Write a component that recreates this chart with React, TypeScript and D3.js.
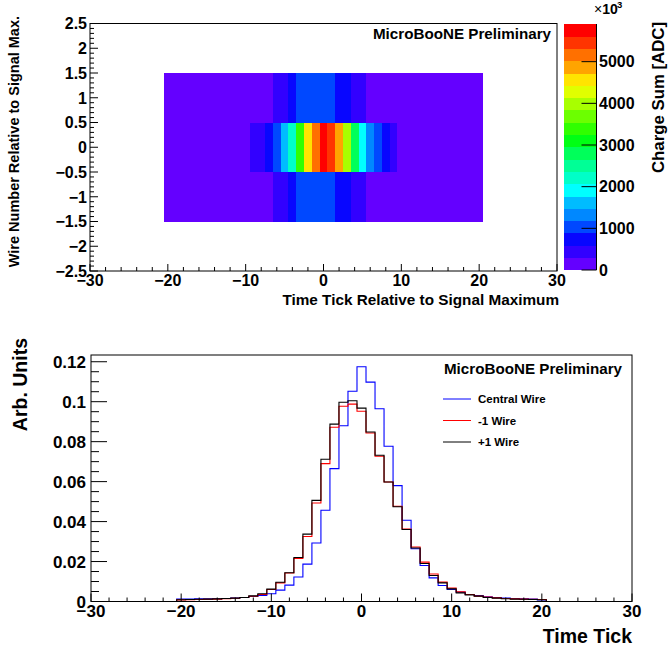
import React from 'react';
import * as d3 from 'd3';

// ---------- DATA ----------
// time-tick bin centres (relative to signal maximum)
const timeBins = [-20, -19, -18, -17, -16, -15, -14, -13, -12, -11, -10, -9, -8, -7, -6, -5, -4, -3, -2, -1, 0,
  1, 2, 3, 4, 5, 6, 7, 8, 9, 10, 11, 12, 13, 14, 15, 16, 17, 18, 19, 20];

// wire numbers relative to signal max (rows of the 2D map)
const wireRows = [-1, 0, 1];

// charge sum per (wire, time) bin, in units of 10^3 ADC
const chargeMinus1 = [9, 10, 11, 12, 13, 15, 17, 21, 28, 37, 64, 99, 152, 229, 346, 525, 735, 929, 1040, 1052, 1014,
  898, 774, 637, 508, 387, 291, 210, 147, 103, 71, 51, 37, 29, 23, 19, 16, 14, 13, 12, 11];
const chargeCentral = [60, 60, 65, 65, 70, 75, 85, 100, 125, 150, 196, 310, 412, 618, 940, 1500, 2296, 3342, 4480, 5286, 5904,
  5517, 4849, 3904, 2915, 2045, 1327, 905, 600, 402, 280, 236, 176, 151, 121, 100, 85, 75, 65, 60, 40];
const chargePlus1 = [10, 11, 12, 13, 14, 16, 18, 21, 30, 42, 66, 102, 153, 234, 359, 539, 758, 946, 1062, 1070, 1031,
  903, 780, 637, 505, 383, 285, 202, 138, 99, 67, 46, 35, 29, 21, 18, 15, 13, 12, 11, 10];

// normalised waveform profiles (Arb. Units)
const profileCentral = [0.0012, 0.0012, 0.0013, 0.0013, 0.0014, 0.0015, 0.0017, 0.002, 0.0025, 0.003, 0.0039, 0.0057, 0.0082,
  0.0123, 0.0187, 0.0293, 0.0457, 0.0665, 0.088, 0.1052, 0.1175, 0.1098, 0.0965, 0.0777, 0.058, 0.0407, 0.0264, 0.018,
  0.0118, 0.008, 0.006, 0.0047, 0.0035, 0.003, 0.0024, 0.002, 0.0017, 0.0015, 0.0013, 0.0012, 0.0008];
const profileMinus1 = [0.0008, 0.0009, 0.001, 0.0011, 0.0012, 0.0014, 0.0016, 0.002, 0.0026, 0.0035, 0.006, 0.0093, 0.0143,
  0.0215, 0.0325, 0.0493, 0.069, 0.0872, 0.0977, 0.0988, 0.0952, 0.0843, 0.0727, 0.0598, 0.0477, 0.0363, 0.0273, 0.0197,
  0.0138, 0.0097, 0.0067, 0.0048, 0.0035, 0.0027, 0.0022, 0.0018, 0.0015, 0.0013, 0.0012, 0.0011, 0.001];
const profilePlus1 = [0.0009, 0.001, 0.0011, 0.0012, 0.0013, 0.0015, 0.0017, 0.002, 0.0028, 0.0039, 0.0062, 0.0096, 0.0144,
  0.022, 0.0337, 0.0506, 0.0712, 0.0888, 0.0997, 0.1005, 0.0968, 0.0848, 0.0732, 0.0598, 0.0474, 0.036, 0.0268, 0.019,
  0.013, 0.0093, 0.0063, 0.0043, 0.0033, 0.0027, 0.002, 0.0017, 0.0014, 0.0012, 0.0011, 0.001, 0.0009];

const legendLabels = ['Central Wire', '-1 Wire', '+1 Wire'];
const topXTicks = [-30, -20, -10, 0, 10, 20, 30];
const topYTicks = [-2.5, -2, -1.5, -1, -0.5, 0, 0.5, 1, 1.5, 2, 2.5];
const zTicks = [0, 1000, 2000, 3000, 4000, 5000];
const botXTicks = [-30, -20, -10, 0, 10, 20, 30];
const botYTicks = [0, 0.02, 0.04, 0.06, 0.08, 0.1, 0.12];

// ---------- STYLE ----------
const FONT = "'Liberation Sans', Arial, Helvetica, sans-serif";
const palette = ['#6400ff', '#3200ff', '#0806ff', '#0048ff', '#0088ff', '#00bcff', '#00ffff', '#00ffc8', '#00ff96', '#00ff5a',
  '#00ff14', '#30ff00', '#6cff00', '#a8ff00', '#e0ff00', '#ffe400', '#ffa400', '#ff7000', '#ff3400', '#ff0000'];

const fmt = (v: number) => String(+v.toFixed(4)).replace('-', '\u2212');

export default function App() {
  // ----- top panel -----
  const tL = 90, tR = 557, tT = 23.5, tB = 271;
  const xTop = d3.scaleLinear().domain([-30, 30]).range([tL, tR]);
  const yTop = d3.scaleLinear().domain([-2.5, 2.5]).range([tB, tT]);
  const rows = [chargeMinus1, chargeCentral, chargePlus1];
  const zMax = d3.max(rows.flat()) as number;
  const color = d3.scaleQuantize<string>().domain([0, zMax]).range(palette);
  const cbL = 564, cbR = 596.5;
  const zScale = d3.scaleLinear().domain([0, zMax]).range([270, 24]);
  const nBands = palette.length;

  const topXMinor = d3.range(-30, 30.001, 2);
  const topYMinor = d3.range(-2.5, 2.5001, 0.1);

  // ----- bottom panel -----
  const bL = 91, bR = 632, bT = 355, bB = 601.5;
  const allProfiles = [profileCentral, profileMinus1, profilePlus1];
  const yMaxB = (d3.max(allProfiles.flat()) as number) * 1.05;
  const xB = d3.scaleLinear().domain([-30, 30]).range([bL, bR]);
  const yB = d3.scaleLinear().domain([0, yMaxB]).range([bB, bT]);
  const botXMinor = d3.range(-30, 30.001, 2);
  const botYMinor = d3.range(0, yMaxB, 0.005);

  const histPath = (vals: number[]) => {
    // bins centred on integer time ticks, zero outside the filled range
    const pts: [number, number][] = [];
    pts.push([xB(-30), yB(0)]);
    for (let t = -29; t <= 29; t++) {
      const idx = timeBins.indexOf(t);
      const v = idx >= 0 ? vals[idx] : 0;
      pts.push([xB(t - 0.5), yB(v)]);
    }
    pts.push([xB(29.5), yB(0)]);
    pts.push([xB(30), yB(0)]);
    return d3.line().curve(d3.curveStepAfter)(pts) as string;
  };
  const lineColors = ['#0000ff', '#ff0000', '#000000'];

  return (
    <svg width={668} height={648} style={{ position: 'absolute', left: 0, top: 0, background: '#fff' }}
      fontFamily={FONT} fontWeight="bold">
      <rect x={0} y={0} width={668} height={648} fill="#fff" />
      {/* ===== TOP: 2D map ===== */}
      <g shapeRendering="crispEdges">
        {wireRows.map((w, ri) =>
          timeBins.map((t, ti) => (
            <rect key={`c${ri}-${ti}`} x={xTop(t - 0.5)} y={yTop(w + 0.5)}
              width={xTop(t + 0.5) - xTop(t - 0.5) + 0.3} height={yTop(w - 0.5) - yTop(w + 0.5) + 0.3}
              fill={color(rows[ri][ti])} />
          )))}
      </g>
      <rect x={tL} y={tT} width={tR - tL} height={tB - tT} fill="none" stroke="#000" strokeWidth={1} />
      {topXMinor.map((v) => {
        const major = Math.abs(v % 10) < 1e-6;
        return <line key={`tx${v}`} x1={xTop(v)} x2={xTop(v)} y1={tB} y2={tB - (major ? 7 : 4)} stroke="#000" />;
      })}
      {topYMinor.map((v) => {
        const major = Math.abs(Math.round(v * 10) % 5) === 0;
        return <line key={`ty${v.toFixed(1)}`} x1={tL} x2={tL + (major ? 8 : 4)} y1={yTop(v)} y2={yTop(v)} stroke="#000" />;
      })}
      {topXTicks.map((v) => (
        <text key={`txl${v}`} x={xTop(v)} y={286} fontSize={16} textAnchor="middle">{fmt(v)}</text>
      ))}
      {topYTicks.map((v) => (
        <text key={`tyl${v}`} x={87} y={yTop(v)} dy="0.36em" fontSize={16} textAnchor="end">{fmt(v)}</text>
      ))}
      <text x={559} y={305} fontSize={15.3} textAnchor="end">Time Tick Relative to Signal Maximum</text>
      <text transform="translate(19,16) rotate(-90)" fontSize={14.5} textAnchor="end">Wire Number Relative to Signal Max.</text>
      <text x={551} y={38.5} fontSize={15.2} textAnchor="end">MicroBooNE Preliminary</text>
      {/* colour bar */}
      <g shapeRendering="crispEdges">
        {palette.map((c, i) => (
          <rect key={`cb${i}`} x={cbL} width={cbR - cbL}
            y={zScale(((i + 1) * zMax) / nBands)} height={zScale((i * zMax) / nBands) - zScale(((i + 1) * zMax) / nBands) + 0.3}
            fill={c} />
        ))}
      </g>
      <line x1={cbR} x2={cbR} y1={zScale(0)} y2={zScale(zMax)} stroke="#000" />
      {zTicks.map((v) => (
        <g key={`z${v}`}>
          <line x1={cbR - 15} x2={cbR} y1={zScale(v)} y2={zScale(v)} stroke="#000" />
          <text x={599} y={zScale(v)} dy="0.36em" fontSize={16}>{v}</text>
        </g>
      ))}
      <text x={594} y={14} fontSize={14}><tspan fontWeight="normal">{'\u00d7'}</tspan>10</text>
      <text x={617} y={7.5} fontSize={9.5}>3</text>
      <text transform="translate(664,22) rotate(-90)" fontSize={16.8} textAnchor="end">Charge Sum [ADC]</text>

      {/* ===== BOTTOM: profiles ===== */}
      {allProfiles.map((p, i) => (
        <path key={`h${i}`} d={histPath(p)} fill="none" stroke={lineColors[i]} strokeWidth={1.1} />
      ))}
      <rect x={bL} y={bT} width={bR - bL} height={bB - bT} fill="none" stroke="#000" strokeWidth={1} />
      {botXMinor.map((v) => {
        const major = Math.abs(v % 10) < 1e-6;
        return <line key={`bx${v}`} x1={xB(v)} x2={xB(v)} y1={bB} y2={bB - (major ? 8 : 4)} stroke="#000" />;
      })}
      {botYMinor.map((v) => {
        const major = Math.abs(Math.round(v * 1000) % 20) === 0;
        return <line key={`by${v.toFixed(3)}`} x1={bL} x2={bL + (major ? 16 : 8)} y1={yB(v)} y2={yB(v)} stroke="#000" />;
      })}
      {botXTicks.map((v) => (
        <text key={`bxl${v}`} x={xB(v)} y={617} fontSize={17} textAnchor="middle">{fmt(v)}</text>
      ))}
      {botYTicks.map((v) => (
        <text key={`byl${v}`} x={86} y={yB(v)} dy="0.36em" fontSize={17} textAnchor="end">{fmt(v)}</text>
      ))}
      <text x={632} y={643} fontSize={19.5} textAnchor="end">Time Tick</text>
      <text transform="translate(27,338) rotate(-90)" fontSize={19.5} textAnchor="end">Arb. Units</text>
      <text x={622} y={373.5} fontSize={15.2} textAnchor="end">MicroBooNE Preliminary</text>
      {legendLabels.map((lab, i) => (
        <g key={`lg${i}`}>
          <line x1={443} x2={471} y1={399 + i * 21.5} y2={399 + i * 21.5} stroke={lineColors[i]} strokeWidth={1} />
          <text x={478} y={399 + i * 21.5} dy="0.36em" fontSize={11.5}>{lab}</text>
        </g>
      ))}
    </svg>
  );
}
